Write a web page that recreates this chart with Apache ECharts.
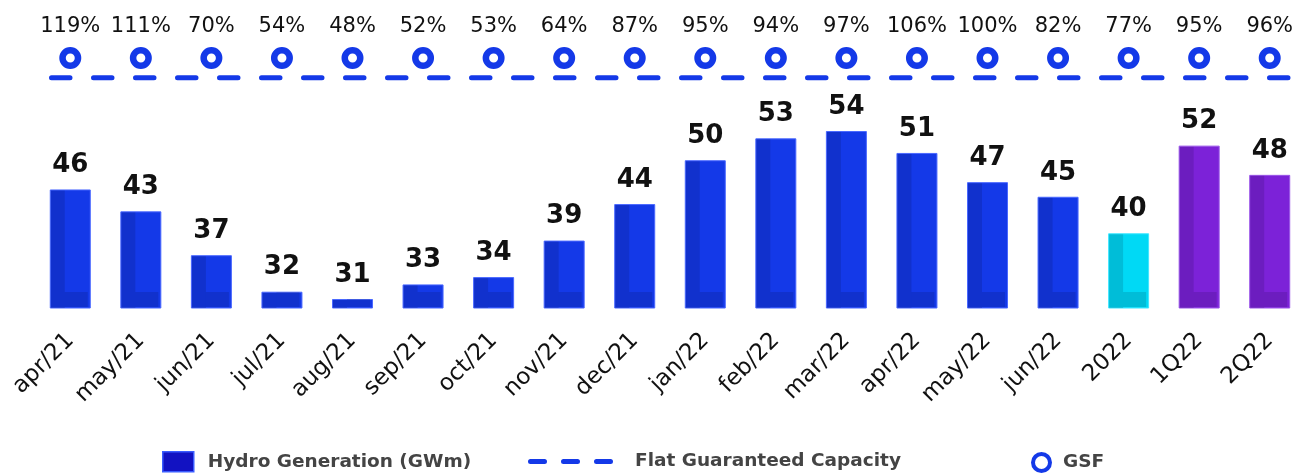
<!DOCTYPE html>
<html>
<head>
<meta charset="utf-8">
<script src="https://cdn.jsdelivr.net/npm/echarts@6/dist/echarts.min.js"></script>
<style>
html,body{margin:0;padding:0;background:#fff;}
#chart{width:1305px;height:473px;}
</style>
</head>
<body>
<div id="chart"></div>
<script>
const categories = ['apr/21','may/21','jun/21','jul/21','aug/21','sep/21','oct/21','nov/21','dec/21','jan/22','feb/22','mar/22','apr/22','may/22','jun/22','2022','1Q22','2Q22'];
const hydroGeneration = [46,43,37,32,31,33,34,39,44,50,53,54,51,47,45,40,52,48];
const gsfPercent = [119,111,70,54,48,52,53,64,87,95,94,97,106,100,82,77,95,96];
const flatGuaranteedCapacity = [61.3,61.3,61.3,61.3,61.3,61.3,61.3,61.3,61.3,61.3,61.3,61.3,61.3,61.3,61.3,61.3,61.3,61.3];

const FONT = 'DejaVu Sans';
const BLUE = '#1439e8';
const BAR_W = 41;

function barColor(name) {
  if (name === '2022') return '#00d9f5';
  if (/Q/.test(name)) return '#7c22d8';
  return BLUE;
}
function barBorder(name) {
  if (name === '2022') return '#3fe6ff';
  if (/Q/.test(name)) return '#9a55e8';
  return '#4a68ff';
}

const chart = echarts.init(document.getElementById('chart'), null, {renderer: 'canvas'});

const legendText = {fontFamily: FONT, fontWeight: 'bold', fontSize: 18.5, color: '#444'};

const option = {
  animation: false,
  backgroundColor: '#ffffff',
  textStyle: {fontFamily: FONT},
  grid: [
    {left: 35, right: -8, top: 0, bottom: 165, containLabel: false},
    {left: 35, right: -8, top: 40, height: 36, containLabel: false}
  ],
  xAxis: [
    {
      type: 'category', gridIndex: 0, data: categories,
      axisLine: {show: false}, axisTick: {show: false},
      axisLabel: {rotate: 45, fontSize: 23, color: '#111', fontFamily: FONT, margin: 29, interval: 0}
    },
    {type: 'category', gridIndex: 1, data: categories, show: false},
    {type: 'category', gridIndex: 0, data: categories, boundaryGap: false, show: false}
  ],
  yAxis: [
    {type: 'value', gridIndex: 0, min: 29.77, max: 71.94, show: false, splitLine: {show: false}},
    {type: 'category', gridIndex: 1, data: ['GSF'], show: false}
  ],
  legend: [
    {
      data: ['Hydro Generation (GWm)'], left: 162, top: 451, padding: 0,
      icon: 'rect', itemWidth: 31, itemHeight: 20,
      itemStyle: {color: '#1212c2', borderColor: '#3a5cff', borderWidth: 1.5, opacity: 1},
      textStyle: Object.assign({padding: [0, 0, 0, 9]}, legendText)
    },
    {
      data: ['Flat Guaranteed Capacity'], left: 528, top: 452, padding: 0,
      icon: 'path://M2.5 0H16.5A2.5 2.5 0 0 1 16.5 5H2.5A2.5 2.5 0 0 1 2.5 0Z M35.5 0H49.5A2.5 2.5 0 0 1 49.5 5H35.5A2.5 2.5 0 0 1 35.5 0Z M68.5 0H82.5A2.5 2.5 0 0 1 82.5 5H68.5A2.5 2.5 0 0 1 68.5 0Z',
      itemWidth: 85, itemHeight: 5,
      itemStyle: {color: BLUE, borderWidth: 0, opacity: 1},
      textStyle: Object.assign({padding: [0, 0, 0, 17]}, legendText)
    },
    {
      data: ['GSF'], left: 1031, top: 452, padding: 0,
      icon: 'circle', itemWidth: 17, itemHeight: 17,
      itemStyle: {color: '#ffffff', borderColor: BLUE, borderWidth: 4, opacity: 1},
      textStyle: Object.assign({padding: [0, 0, 0, 8]}, legendText)
    }
  ],
  series: [
    {
      name: 'Hydro Generation (GWm)',
      type: 'bar', xAxisIndex: 0, yAxisIndex: 0,
      barWidth: BAR_W,
      color: '#1212c2',
      data: hydroGeneration.map((v, i) => ({
        value: v,
        itemStyle: {color: barColor(categories[i]), borderColor: barBorder(categories[i]), borderWidth: 1}
      })),
      label: {
        show: true, position: 'top', distance: 11,
        fontFamily: FONT, fontWeight: 'bold', fontSize: 26, color: '#111'
      },
      z: 2
    },
    {
      name: 'shade',
      type: 'custom', xAxisIndex: 0, yAxisIndex: 0,
      data: hydroGeneration.map((v, i) => [i, v]),
      renderItem: function (params, api) {
        const top = api.coord([api.value(0), api.value(1)]);
        const base = params.coordSys.y + params.coordSys.height;
        const x = top[0] - BAR_W / 2 + 1;
        const w = BAR_W - 2;
        const h = base - top[1] - 1;
        const stripW = 14;
        const stripH = Math.min(15, h);
        const fill = 'rgba(0,0,20,0.13)';
        return {
          type: 'group',
          children: [
            {type: 'rect', shape: {x: x, y: top[1] + 1, width: stripW, height: h}, style: {fill: fill}},
            {type: 'rect', shape: {x: x + stripW, y: base - stripH - 1, width: w - stripW - 2, height: stripH}, style: {fill: fill}}
          ]
        };
      },
      silent: true,
      z: 3
    },
    {
      name: 'Flat Guaranteed Capacity',
      type: 'line', xAxisIndex: 2, yAxisIndex: 0,
      data: flatGuaranteedCapacity,
      symbol: 'none',
      color: BLUE,
      lineStyle: {color: BLUE, width: 5, type: [18.5, 23.5], dashOffset: 25.5, cap: 'round', opacity: 1},
      z: 4
    },
    {
      name: 'GSF',
      type: 'scatter', xAxisIndex: 1, yAxisIndex: 1,
      data: gsfPercent.map((v, i) => [i, 'GSF', v]),
      encode: {x: 0, y: 1},
      symbol: 'circle', symbolSize: 15.5,
      itemStyle: {color: '#ffffff', borderColor: BLUE, borderWidth: 6.5, opacity: 1},
      label: {
        show: true, position: 'top', distance: 10,
        formatter: p => p.value[2] + '%',
        fontFamily: FONT, fontSize: 21, color: '#111'
      },
      z: 5
    }
  ]
};
chart.setOption(option);
</script>
</body>
</html>
